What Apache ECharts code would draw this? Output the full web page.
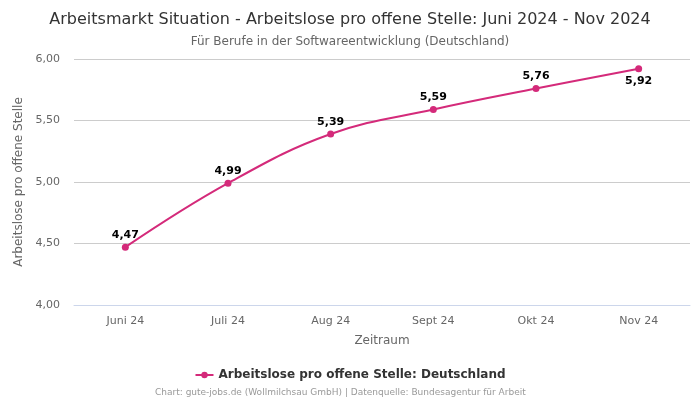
<!DOCTYPE html>
<html><head><meta charset="utf-8">
<script src="https://cdn.jsdelivr.net/npm/echarts@6/dist/echarts.min.js"></script>
<style>html,body{margin:0;padding:0;background:#fff}#c{width:700px;height:400px}</style>
</head><body><div id="c"></div>
<script>
const categories = ['Juni 24','Juli 24','Aug 24','Sept 24','Okt 24','Nov 24'];
const values = [4.47, 4.99, 5.39, 5.59, 5.76, 5.92];
const yTicks = [4.0, 4.5, 5.0, 5.5, 6.0];
const seriesName = 'Arbeitslose pro offene Stelle: Deutschland';
const color = '#d42a7a';
const font = 'DejaVu Sans';
const fmt = v => v.toFixed(2).replace('.', ',');
const chart = echarts.init(document.getElementById('c'));
chart.setOption({
  animation: false,
  textStyle: {fontFamily: font},
  title: [
    {text: 'Arbeitsmarkt Situation - Arbeitslose pro offene Stelle: Juni 2024 - Nov 2024', left: 'center', top: 7,
     textStyle: {fontSize: 16, fontWeight: 'normal', color: '#333', fontFamily: font}},
    {text: 'Für Berufe in der Softwareentwicklung (Deutschland)', left: 'center', top: 31,
     textStyle: {fontSize: 12, fontWeight: 'normal', color: '#666', fontFamily: font}},
    {text: 'Chart: gute-jobs.de (Wollmilchsau GmbH) | Datenquelle: Bundesagentur für Arbeit', left: 150, top: 383,
     textStyle: {fontSize: 9, fontWeight: 'normal', color: '#999', fontFamily: font}}
  ],
  legend: {top: 364, left: 'center', itemWidth: 18, itemHeight: 8,
    textStyle: {fontSize: 12, fontWeight: 'bold', color: '#333', fontFamily: font},
    data: [{name: seriesName}]},
  grid: {left: 74, right: 10, top: 59, bottom: 95},
  xAxis: {type: 'category', data: categories, name: 'Zeitraum', nameLocation: 'middle', nameGap: 30,
    nameTextStyle: {fontSize: 12, color: '#666'},
    axisTick: {show: false}, axisLine: {show: true, lineStyle: {color: '#ccd6eb'}},
    axisLabel: {fontSize: 11, color: '#666', margin: 11}},
  yAxis: {type: 'value', min: yTicks[0], max: yTicks[yTicks.length-1], interval: 0.5,
    name: 'Arbeitslose pro offene Stelle', nameLocation: 'middle', nameGap: 42,
    nameTextStyle: {fontSize: 12, color: '#666'},
    axisLabel: {fontSize: 11, color: '#666', formatter: v => fmt(v), margin: 14},
    splitLine: {lineStyle: {color: '#ccc'}}},
  series: [{
    name: seriesName, type: 'line', data: values.map((v, i) => ({value: v,
      label: {position: i === values.length - 1 ? 'bottom' : 'top'}})),
    smooth: 0.4, symbol: 'circle', symbolSize: 7,
    lineStyle: {color: color, width: 2}, itemStyle: {color: color},
    label: {show: true, formatter: p => fmt(p.value), fontSize: 11, fontWeight: 'bold', color: '#000', distance: 3}
  }]
});
</script></body></html>
